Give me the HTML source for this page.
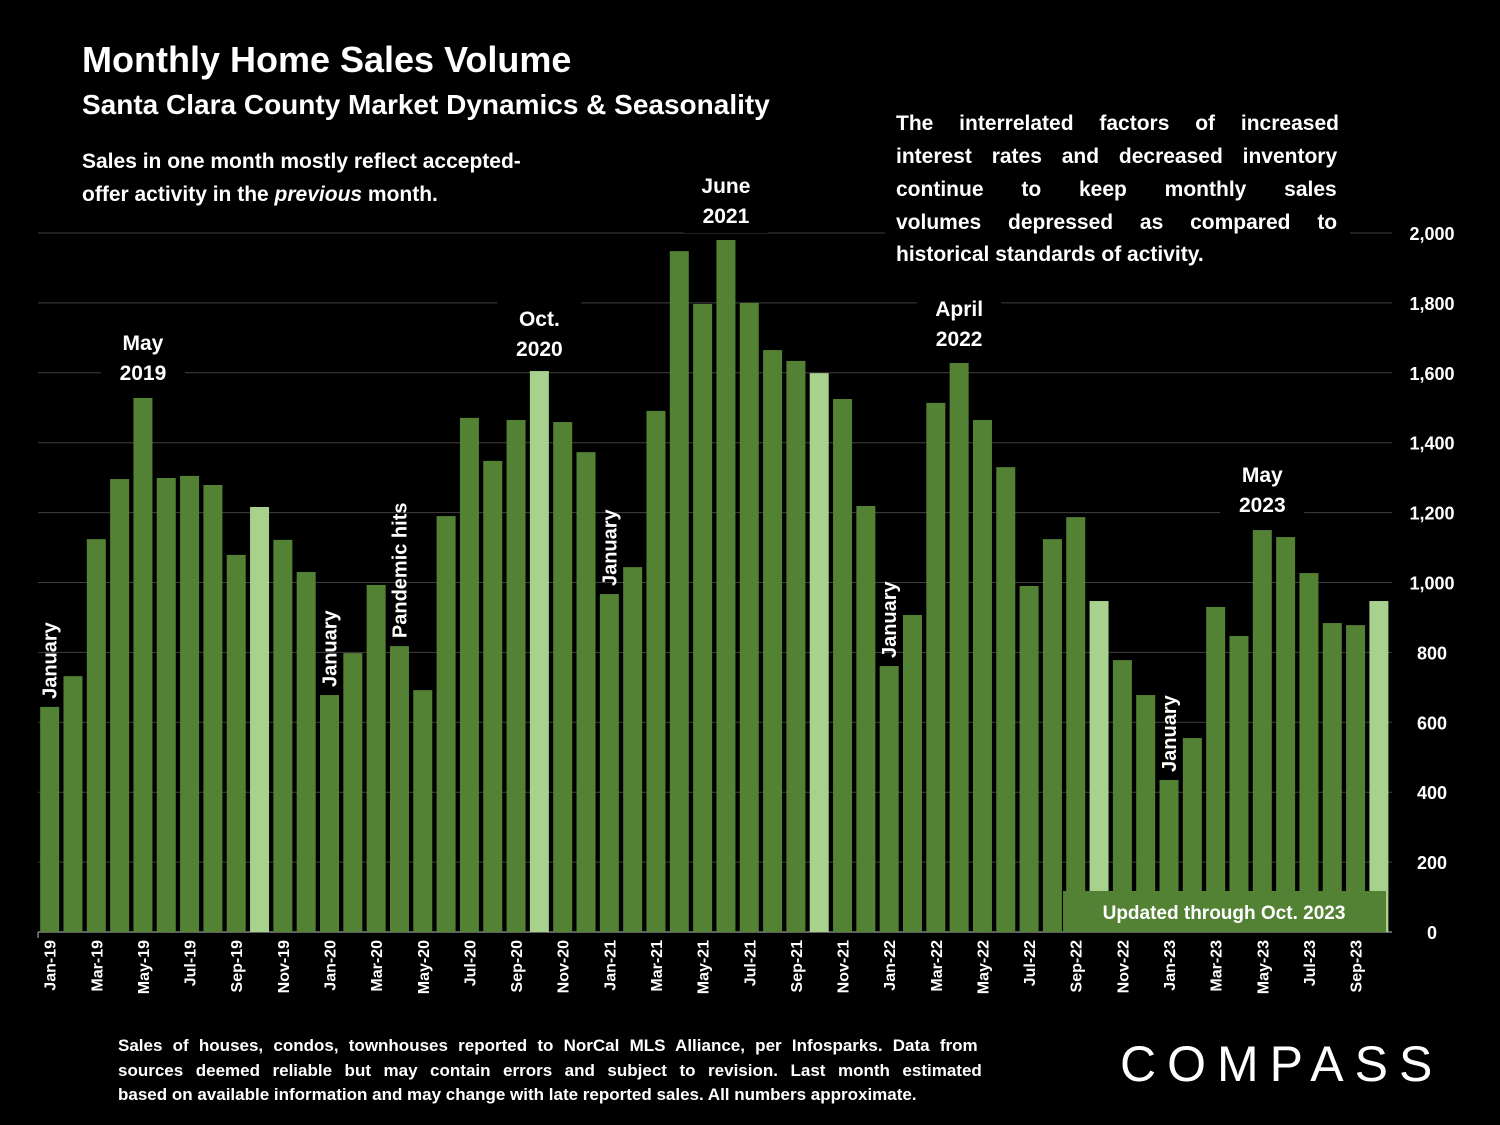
<!DOCTYPE html>
<html><head><meta charset="utf-8"><style>
html,body{margin:0;padding:0;background:#000;}
svg{display:block;font-family:"Liberation Sans",sans-serif;}
</style></head><body>
<svg id="chart" width="1500" height="1125" viewBox="0 0 1500 1125">
<rect width="1500" height="1125" fill="#000"/>
<g id="grid"></g>
<g id="bars"></g>
<g id="ylabels"></g>
<g id="xlabels"></g>
<g id="notes" font-weight="bold" fill="#fff"></g>
<text x="82" y="72" font-size="36" font-weight="bold" fill="#fff">Monthly Home Sales Volume</text>
<text x="82" y="114" font-size="28" font-weight="bold" fill="#fff">Santa Clara County Market Dynamics &amp; Seasonality</text>
<text font-size="21" font-weight="bold" fill="#fff"><tspan x="82" y="168">Sales in one month mostly reflect accepted-</tspan><tspan x="82" y="201">offer activity in the <tspan font-style="italic">previous</tspan> month.</tspan></text>
<rect x="885" y="100" width="465" height="170" fill="#000"/>
<text font-size="21" font-weight="bold" fill="#fff"><tspan x="896" y="130" word-spacing="20">The interrelated factors of increased</tspan><tspan x="896" y="163" word-spacing="14">interest rates and decreased inventory</tspan><tspan x="896" y="196" word-spacing="32">continue to keep monthly sales</tspan><tspan x="896" y="229" word-spacing="21">volumes depressed as compared to</tspan><tspan x="896" y="261">historical standards of activity.</tspan></text>
<rect x="1063" y="891" width="323" height="41" fill="#548235"/>
<text x="1224" y="919" font-size="19" font-weight="bold" fill="#fff" text-anchor="middle">Updated through Oct. 2023</text>
<text font-size="17" font-weight="bold" fill="#fff"><tspan x="118" y="1051" word-spacing="5.5">Sales of houses, condos, townhouses reported to NorCal MLS Alliance, per Infosparks. Data from</tspan><tspan x="118" y="1076" word-spacing="7.8">sources deemed reliable but may contain errors and subject to revision. Last month estimated</tspan><tspan x="118" y="1100">based on available information and may change with late reported sales. All numbers approximate.</tspan></text>
<text x="1120" y="1081" font-size="50" fill="#fff" letter-spacing="11">COMPASS</text>
</svg>
<script>
const months = ["Jan-19","Feb-19","Mar-19","Apr-19","May-19","Jun-19","Jul-19","Aug-19","Sep-19","Oct-19","Nov-19","Dec-19","Jan-20","Feb-20","Mar-20","Apr-20","May-20","Jun-20","Jul-20","Aug-20","Sep-20","Oct-20","Nov-20","Dec-20","Jan-21","Feb-21","Mar-21","Apr-21","May-21","Jun-21","Jul-21","Aug-21","Sep-21","Oct-21","Nov-21","Dec-21","Jan-22","Feb-22","Mar-22","Apr-22","May-22","Jun-22","Jul-22","Aug-22","Sep-22","Oct-22","Nov-22","Dec-22","Jan-23","Feb-23","Mar-23","Apr-23","May-23","Jun-23","Jul-23","Aug-23","Sep-23","Oct-23"];
const sales = [644,732,1124,1296,1528,1299,1305,1279,1079,1216,1122,1030,678,798,993,818,692,1190,1471,1348,1465,1605,1459,1373,967,1044,1491,1948,1797,1980,1800,1665,1634,1599,1525,1219,761,907,1514,1628,1465,1330,990,1124,1187,947,778,678,435,555,930,847,1150,1130,1027,884,878,947];
const yTicks = [0,200,400,600,800,1000,1200,1400,1600,1800,2000];
const ns="http://www.w3.org/2000/svg";
const X0=38, SLOT=23.32, BW=19, Y0=932, PPU=699/2000;
const y = v => Y0 - v*PPU;
const xc = i => X0 + SLOT*(i+0.5);
function mk(tag, attrs, parent){const e=document.createElementNS(ns,tag);for(const k in attrs)e.setAttribute(k,attrs[k]);parent.appendChild(e);return e;}
const grid=document.getElementById('grid'), bars=document.getElementById('bars'), yl=document.getElementById('ylabels'), xl=document.getElementById('xlabels'), notes=document.getElementById('notes');
yTicks.forEach(t=>{
  const l=mk('line',{x1:38,x2:1392,y1:y(t),y2:y(t),stroke:t===0?'#bfbfbf':'#404040','stroke-width':1},grid);
  
  
  const tx=mk('text',{x:1432,y:y(t)+7,'font-size':18,'font-weight':'bold',fill:'#fff','text-anchor':'middle'},yl);
  tx.textContent=t.toLocaleString('en-US');
  
  
});
sales.forEach((v,i)=>{
  const light = months[i].startsWith('Oct');
  const r=mk('rect',{x:xc(i)-BW/2,y:y(v),width:BW,height:v*PPU,fill:light?'#a9d18e':'#548235'},bars);
  
  
  if(i%2===0){
    const t=mk('text',{transform:`translate(${xc(i)+6},940) rotate(-90)`,'font-size':16,'font-weight':'bold',fill:'#fff','text-anchor':'end'},xl);
    t.textContent=months[i];
    
    
  }
});
mk('line',{x1:38,x2:38,y1:932,y2:938,stroke:'#bfbfbf'},grid);
function label(lines, i, topY){
  const cx=xc(i);
  mk('rect',{x:cx-42,y:topY-24,width:84,height:lines.length*30+4,fill:'#000'},notes);
  lines.forEach((s,k)=>{const t=mk('text',{x:cx,y:topY+k*30,'font-size':21,'text-anchor':'middle'},notes);t.textContent=s;
    
    });
}
label(['May','2019'],4,350);
label(['Oct.','2020'],21,326);
label(['June','2021'],29,193);
label(['April','2022'],39,316);
label(['May','2023'],52,482);
function vlabel(s,i,v){
  const t=mk('text',{transform:`translate(${xc(i)+7},${y(v)-8}) rotate(-90)`,'font-size':20},notes);
  t.textContent=s;
  
  
}
vlabel('January',0,sales[0]);
vlabel('January',12,sales[12]);
vlabel('Pandemic hits',15,sales[15]);
vlabel('January',24,sales[24]);
vlabel('January',36,sales[36]);
vlabel('January',48,sales[48]);
</script>
</body></html>
